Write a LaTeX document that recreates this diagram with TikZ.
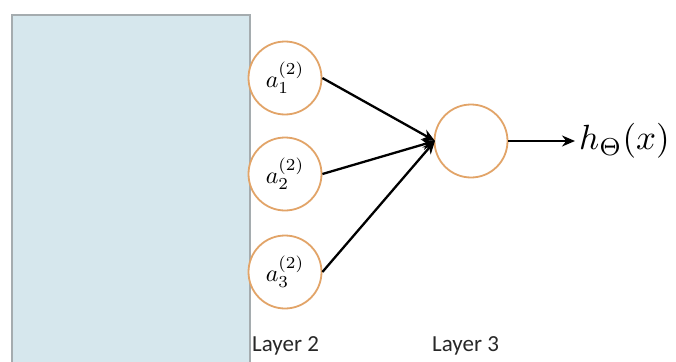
\documentclass[tikz,border=0pt]{standalone}
\usepackage{graphicx}
\usepackage{fontspec}
\newfontfamily\labfont{Carlito}
\usetikzlibrary{arrows.meta}
\definecolor{panel}{RGB}{214,231,237}
\definecolor{panelborder}{RGB}{165,172,175}
\definecolor{ring}{RGB}{226,164,104}
\definecolor{labtext}{RGB}{40,40,40}
\tikzset{
  unit/.style={circle, draw=ring, line width=1.8pt, fill=white, minimum size=73pt, inner sep=0pt},
  conn/.style={line width=2.3pt, -{Stealth[length=13pt,width=11pt]}},
  layerlab/.style={font=\labfont\fontsize{23}{23}\selectfont, text=labtext, inner sep=0pt}
}
\begin{document}
\begin{tikzpicture}[x=1pt,y=-1pt]
\useasboundingbox (0,0) rectangle (676,361);
\fill[white] (0,0) rectangle (676,361);
\draw[panelborder, line width=2pt, fill=panel] (12,15) rectangle (250,365);
\node[unit] (a1) at (285,78) {\scalebox{2.4}{$a_1^{(2)}$}};
\node[unit] (a2) at (285,174) {\scalebox{2.4}{$a_2^{(2)}$}};
\node[unit] (a3) at (285,272) {\scalebox{2.4}{$a_3^{(2)}$}};
\node[unit] (h) at (471,141) {};
\coordinate (hin) at (435,141);
\node[anchor=west, inner sep=0pt] (out) at (579,141) {\scalebox{3.5}{$h_\Theta(x)$}};
\draw[conn] (a1.east) -- (hin);
\draw[conn] (a2.east) -- (hin);
\draw[conn] (a3.east) -- (hin);
\draw[conn, shorten >=4pt] (h.east) -- (out.west);
\node[layerlab, anchor=west] (l2) at (252,346) {Layer 2};
\node[layerlab, anchor=west] (l3) at (432,346) {Layer 3};
\end{tikzpicture}
\end{document}
